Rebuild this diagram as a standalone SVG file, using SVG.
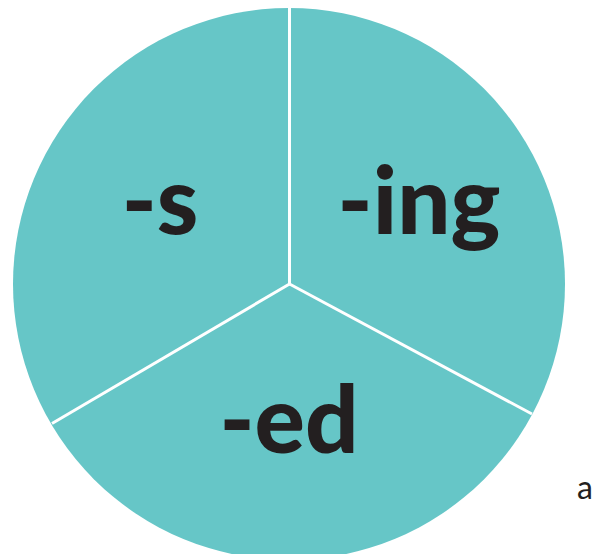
<svg xmlns="http://www.w3.org/2000/svg" width="603" height="554" viewBox="0 0 603 554">
<style>
.lbl{font-family:Lato,"Liberation Sans",sans-serif;font-weight:900;font-size:94px;fill:#231F20;text-anchor:middle}
.sep{stroke:#FFFFFF;stroke-width:3;fill:none}
</style>
<rect width="603" height="554" fill="#FFFFFF"/>
<g id="pie">
<circle cx="289" cy="284" r="276" fill="#66C6C7"/>
</g>
<g id="connectors">
<line class="sep" x1="289.5" y1="0" x2="289.5" y2="284"/>
<line class="sep" x1="289.5" y1="284" x2="52" y2="423.5"/>
<line class="sep" x1="289.5" y1="284" x2="532" y2="414"/>
</g>
<g id="node-s"><text class="lbl" x="160" y="234">-s</text></g>
<g id="node-ing"><text class="lbl" x="419" y="234">-ing</text></g>
<g id="node-ed"><text class="lbl" x="289" y="453">-ed</text></g>
<g id="node-a"><text x="585" y="499" font-family="Lato,'Liberation Sans',sans-serif" font-size="32" fill="#231F20" text-anchor="middle">a</text></g>
</svg>
